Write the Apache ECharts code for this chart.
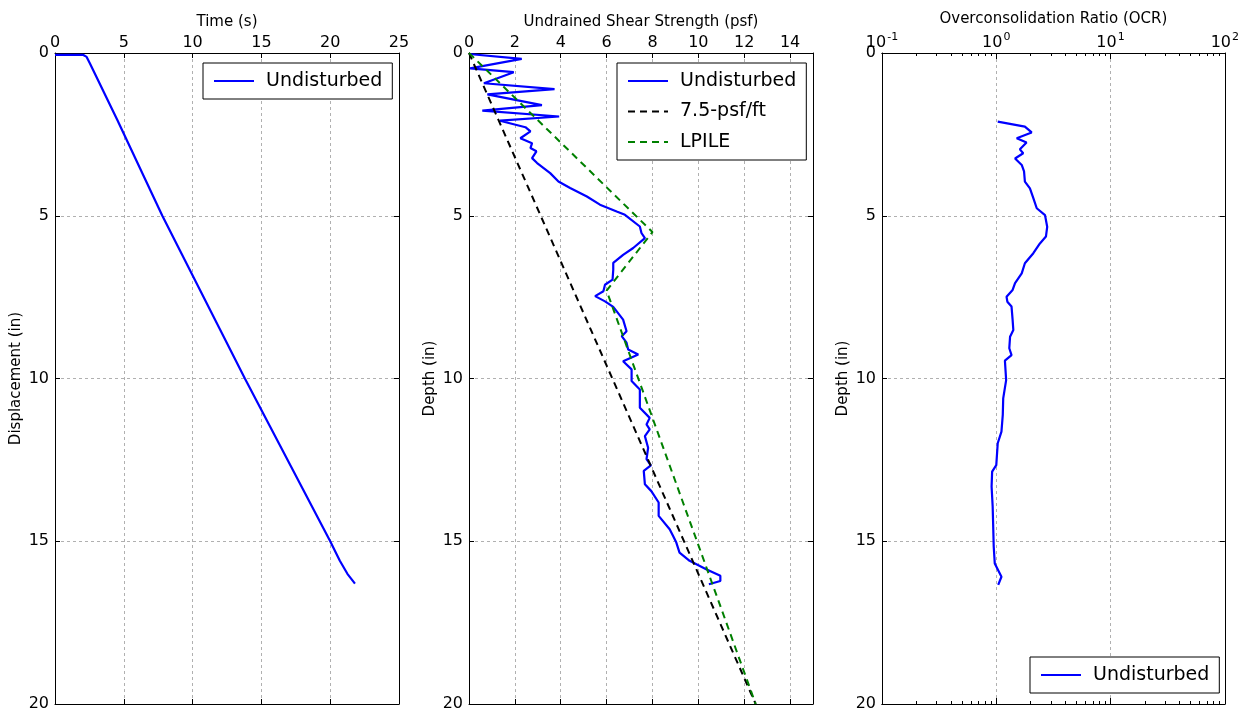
<!DOCTYPE html>
<html>
<head>
<meta charset="utf-8">
<script src="https://cdn.jsdelivr.net/npm/echarts@6/dist/echarts.min.js"></script>
<style>
html,body{margin:0;padding:0;background:#fff;}
#chart{width:1242px;height:713px;}
</style>
</head>
<body>
<div id="chart"></div>
<script>
// ---- Data ----
const timeS  = [0, 2.06, 2.3, 2.54, 4.53, 7.8, 13.8, 20.0, 20.7, 21.25, 21.8];
const dispIn = [0.06, 0.06, 0.12, 0.32, 2.06, 5.0, 10.0, 15.0, 15.6, 16.0, 16.3];

const suPsf = [0,2.3,0.05,1.95,0.65,3.73,0.8,3.18,0.58,3.93,1.35,2.46,2.68,2.24,2.75,2.68,2.94,2.75,2.97,3.54,3.9,4.41,5.14,5.71,6.44,6.8,7.45,7.52,7.67,7.16,6.72,6.29,6.29,6.26,5.93,5.86,5.5,5.93,6.29,6.72,6.87,6.66,6.87,6.94,7.38,6.72,7.09,7.09,7.45,7.45,7.88,7.74,7.88,7.67,7.81,7.74,7.93,7.62,7.67,7.95,8.27,8.27,8.75,8.9,9.04,9.18,9.62,10.34,10.96,10.96,10.46];
const suDepth = [0.03,0.18,0.47,0.59,0.93,1.11,1.27,1.6,1.77,1.95,2.08,2.28,2.41,2.62,2.77,2.92,3.02,3.23,3.38,3.69,3.95,4.15,4.41,4.66,4.87,4.97,5.33,5.53,5.69,5.99,6.2,6.45,6.66,6.96,7.12,7.32,7.47,7.63,7.8,8.19,8.55,8.7,8.9,9.11,9.26,9.47,9.72,10.08,10.34,10.9,11.21,11.41,11.56,11.77,12.13,12.48,12.67,12.84,13.25,13.46,13.81,14.22,14.63,14.84,15.04,15.35,15.6,15.86,16.06,16.22,16.32];

const slopePsf   = [0, 12.5];
const slopeDepth = [0, 20];

const lpilePsf   = [0, 8.0, 6.0, 12.5];
const lpileDepth = [0, 5.5, 7.3, 20];

const ocrVal   = [1.03,1.78,2.04,1.51,1.84,1.61,1.72,1.46,1.67,1.75,1.78,1.97,2.11,2.26,2.67,2.79,2.72,2.41,2.11,1.78,1.67,1.46,1.39,1.23,1.25,1.36,1.39,1.41,1.32,1.30,1.36,1.19,1.22,1.15,1.14,1.11,1.03,1.0,0.92,0.91,0.93,0.94,0.95,0.97,1.11,1.04];
const ocrDepth = [2.11,2.26,2.44,2.62,2.75,2.96,3.08,3.24,3.44,3.64,3.95,4.16,4.46,4.77,4.98,5.34,5.64,5.85,6.15,6.46,6.77,7.07,7.28,7.49,7.64,7.79,8.2,8.51,8.72,9.07,9.28,9.45,10.05,10.61,11.12,11.63,11.99,12.66,12.86,13.32,13.94,14.55,15.17,15.68,16.09,16.34];

const ocrMinorTicks = [0.2,0.3,0.4,0.5,0.6,0.7,0.8,0.9,2,3,4,5,6,7,8,9,20,30,40,50,60,70,80,90];

const names = {
  time: 'Time (s)', disp: 'Displacement (in)',
  su: 'Undrained Shear Strength (psf)', depth: 'Depth (in)',
  ocr: 'Overconsolidation Ratio (OCR)',
  undisturbed: 'Undisturbed', slope: '7.5-psf/ft', lpile: 'LPILE'
};

// ---- Helpers ----
const FONT = 'DejaVu Sans';
const zip = (a, b) => a.map((v, i) => [v, b[i]]);
const grids = [
  {left: 55,  top: 53, width: 344, height: 651},
  {left: 469, top: 53, width: 344, height: 651},
  {left: 882, top: 53, width: 343, height: 651}
];
const axisLine = {show: true, onZero: false, lineStyle: {color: '#000', width: 1}};
const tick = (len) => ({show: true, inside: true, length: len, lineStyle: {color: '#000', width: 1}});
const label = {color: '#000', fontSize: 16, fontFamily: FONT, margin: 2};
const split = {show: true, lineStyle: {color: '#b0b0b0', type: [3, 3], width: 1}};
const nameStyle = {color: '#000', fontSize: 15, fontFamily: FONT};

function xMain(grid, min, max, interval, name, showMax) {
  return {type: 'value', gridIndex: grid, position: 'top', min, max, interval,
    name, nameLocation: 'middle', nameGap: 21, nameTextStyle: nameStyle,
    axisLine, axisTick: tick(5), axisLabel: Object.assign({showMaxLabel: showMax}, label), splitLine: split};
}
function xMirror(grid, min, max, interval) {
  return {type: 'value', gridIndex: grid, position: 'bottom', min, max, interval,
    axisLine, axisTick: tick(5), axisLabel: {show: false}, splitLine: {show: false}};
}
function yMain(grid, name, gap) {
  return {type: 'value', gridIndex: grid, position: 'left', min: 0, max: 20, interval: 5, inverse: true,
    name, nameLocation: 'middle', nameGap: gap, nameRotate: 90, nameTextStyle: nameStyle,
    axisLine, axisTick: tick(5), axisLabel: Object.assign({}, label, {margin: 6}), splitLine: split};
}
function yMirror(grid) {
  return {type: 'value', gridIndex: grid, position: 'right', min: 0, max: 20, interval: 5, inverse: true,
    axisLine, axisTick: tick(5), axisLabel: {show: false}, splitLine: {show: false}};
}

const xAxes = [
  xMain(0, 0, 25, 5, names.time, true), xMirror(0, 0, 25, 5),
  xMain(1, 0, 15, 2, names.su, false), xMirror(1, 0, 15, 2),
  {type: 'log', logBase: 10, gridIndex: 2, position: 'top', min: 0.1, max: 100,
    name: names.ocr, nameLocation: 'middle', nameGap: 21, nameTextStyle: nameStyle,
    axisLine, axisTick: tick(6), splitLine: split,
    axisLabel: {margin: 2, color: '#000', fontFamily: FONT,
      formatter: v => '{b|10}{s|' + Math.round(Math.log10(v)) + '}',
      rich: {b: {fontSize: 16, fontFamily: FONT, color: '#000', verticalAlign: 'bottom'},
             s: {fontSize: 11, fontFamily: FONT, color: '#000', verticalAlign: 'top', padding: [0, 0, 8, 1]}}}},
  {type: 'log', logBase: 10, gridIndex: 2, position: 'bottom', min: 0.1, max: 100,
    axisLine, axisTick: tick(6), axisLabel: {show: false}, splitLine: {show: false}},
  {type: 'log', logBase: 10, gridIndex: 2, position: 'top', min: 0.1, max: 100,
    axisLine, axisTick: Object.assign(tick(3), {customValues: ocrMinorTicks}), axisLabel: {show: false}, splitLine: {show: false}},
  {type: 'log', logBase: 10, gridIndex: 2, position: 'bottom', min: 0.1, max: 100,
    axisLine, axisTick: Object.assign(tick(3), {customValues: ocrMinorTicks}), axisLabel: {show: false}, splitLine: {show: false}}
];
const yAxes = [
  yMain(0, names.disp, 31), yMirror(0),
  yMain(1, names.depth, 31), yMirror(1),
  yMain(2, names.depth, 31), yMirror(2)
];

const legendCommon = {
  orient: 'vertical', borderColor: '#000', borderWidth: 1, borderRadius: 0,
  backgroundColor: '#fff', padding: [7, 10, 7, 10], itemWidth: 40, itemHeight: 14, itemGap: 8.5,
  selectedMode: false,
  itemStyle: {opacity: 0, borderWidth: 0},
  textStyle: {fontSize: 19, fontFamily: FONT, color: '#000', lineHeight: 22, padding: [0, 0, 0, 7]}
};

const blue = {color: '#0000ff', width: 2.2};
const option = {
  animation: false,
  backgroundColor: '#fff',
  grid: grids,
  xAxis: xAxes,
  yAxis: yAxes,
  legend: [
    Object.assign({left: 203, top: 63, data: [names.undisturbed]}, legendCommon),
    Object.assign({left: 617, top: 63, data: [names.undisturbed, names.slope, names.lpile]}, legendCommon),
    Object.assign({left: 1030, top: 657, data: [names.undisturbed]}, legendCommon)
  ],
  series: [
    {type: 'line', name: names.undisturbed, xAxisIndex: 0, yAxisIndex: 0, data: zip(timeS, dispIn),
      symbol: 'none', lineStyle: blue, itemStyle: {color: '#0000ff'}},
    {type: 'line', name: names.undisturbed, xAxisIndex: 2, yAxisIndex: 2, data: zip(suPsf, suDepth),
      symbol: 'none', lineStyle: blue, itemStyle: {color: '#0000ff'}},
    {type: 'line', name: names.slope, xAxisIndex: 2, yAxisIndex: 2, data: zip(slopePsf, slopeDepth),
      symbol: 'none', lineStyle: {color: '#000', width: 2, type: [7, 5]}, itemStyle: {color: '#000'}},
    {type: 'line', name: names.lpile, xAxisIndex: 2, yAxisIndex: 2, data: zip(lpilePsf, lpileDepth),
      symbol: 'none', lineStyle: {color: '#008000', width: 2, type: [7, 5]}, itemStyle: {color: '#008000'}},
    {type: 'line', name: names.undisturbed, xAxisIndex: 4, yAxisIndex: 4, data: zip(ocrVal, ocrDepth),
      symbol: 'none', lineStyle: blue, itemStyle: {color: '#0000ff'}}
  ]
};
const chart = echarts.init(document.getElementById('chart'), null, {renderer: 'canvas'});
chart.setOption(option);
</script>
</body>
</html>
